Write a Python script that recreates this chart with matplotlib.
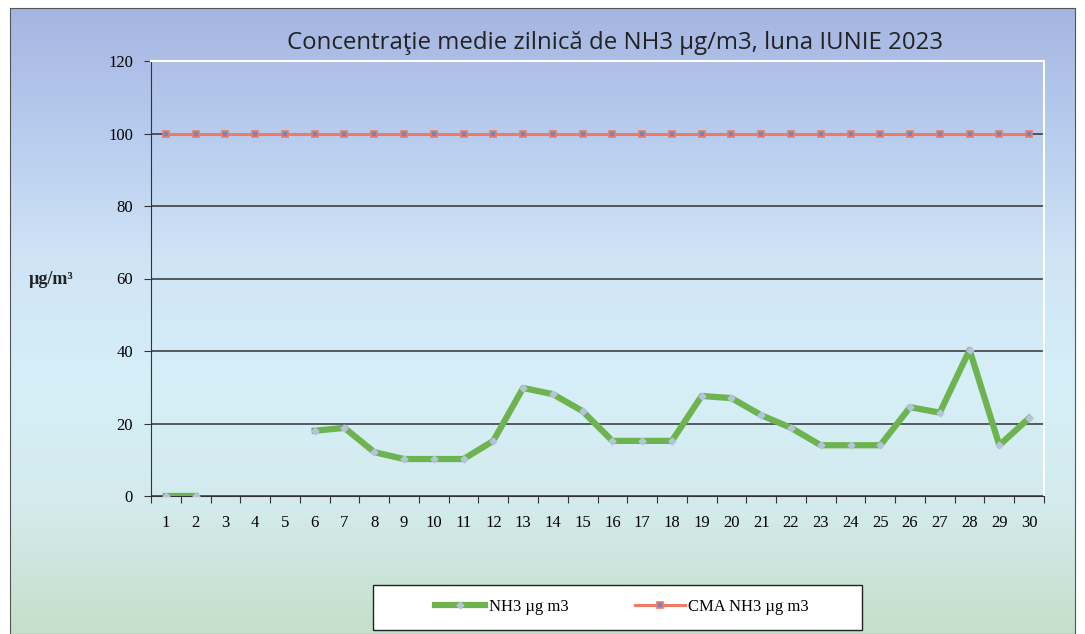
import numpy as np
import matplotlib.pyplot as plt
from matplotlib.colors import LinearSegmentedColormap
from matplotlib.patches import Rectangle

# daily data, June 2023 (None = no measurement)
days = list(range(1, 31))
nh3 = [0, 0, None, None, None, 18.0, 18.8, 12.1, 10.2, 10.2,
       10.2, 15.2, 29.8, 28.1, 23.4, 15.2, 15.2, 15.2, 27.6, 27.0,
       22.3, 18.8, 14.0, 14.0, 14.0, 24.5, 23.0, 40.3, 14.0, 21.5]
cma = [100] * 30
y_ticks = [0, 20, 40, 60, 80, 100, 120]

fig = plt.figure(figsize=(10.85, 6.34), dpi=100)

# gradient background (chart area), white strip outside
bg = fig.add_axes([10 / 1085, 0, 1065 / 1085, 626 / 634], zorder=0)
cmap = LinearSegmentedColormap.from_list(
    'bg', ['#a5b5e1', '#b8ccee', '#cfe4f5', '#d6eff8', '#d3ebec', '#c4dfca'])
grad = np.linspace(0, 1, 256).reshape(-1, 1)
bg.imshow(grad, aspect='auto', cmap=cmap, extent=[0, 1, 0, 1], origin='upper')
bg.set_xticks([])
bg.set_yticks([])
for s in bg.spines.values():
    s.set_color('#555555')
    s.set_linewidth(0.8)

ax = fig.add_axes([151 / 1085, 1 - 496 / 634, 893 / 1085, 435 / 634], zorder=1)
ax.set_facecolor('none')

x = np.array(days, dtype=float)
y = np.array([np.nan if v is None else v for v in nh3])

ax.plot(x, cma, color='#f07a64', lw=2.2, marker='s', ms=5,
        mfc='#7384c4', mec='#f07a64', mew=1.2, label='CMA NH3 µg m3', zorder=3)
ax.plot(x, y, color='#6db34f', lw=4.5, marker='D', ms=3.5,
        mfc='#b4c4dc', mec='#b4c4dc', label='NH3 µg m3', zorder=4)

ax.set_xlim(0.5, 30.5)
ax.set_ylim(0, 120)
ax.set_yticks(y_ticks)
ax.set_xticks(np.arange(0.5, 31, 1))
ax.set_xticklabels([])
ax.set_xticks(days, minor=True)
ax.set_xticklabels([str(d) for d in days], minor=True, family='Liberation Serif', fontsize=12)
ax.tick_params(axis='x', which='major', direction='out', length=5, color='#333333')
ax.tick_params(axis='x', which='minor', length=0, pad=14)
ax.tick_params(axis='y', direction='out', length=5, color='#333333', pad=8)
for lbl in ax.get_yticklabels():
    lbl.set_family('Liberation Serif')
    lbl.set_fontsize(12)

ax.grid(axis='y', color='#333333', lw=1.1)
ax.set_axisbelow(True)
ax.spines['left'].set_color('#333333')
ax.spines['bottom'].set_color('#333333')
ax.spines['top'].set_color('white')
ax.spines['right'].set_color('white')
ax.spines['top'].set_linewidth(1.5)
ax.spines['right'].set_linewidth(1.5)

fig.text(51 / 1085, 1 - 280 / 634, 'µg/m³', family='Liberation Serif', fontweight='bold',
         fontsize=13, ha='center', va='center', color='#222222')
fig.text(615 / 1085, 1 - 43 / 634, 'Concentraţie medie zilnică de NH3 µg/m3, luna IUNIE 2023',
         family='Open Sans', fontsize=17.3, ha='center', va='center', color='#222222')

# legend box (Excel style, fixed size)
fig.patches.append(Rectangle((373 / 1085, 1 - 630 / 634), 489 / 1085, 45 / 634,
                             transform=fig.transFigure, facecolor='white',
                             edgecolor='#222222', lw=1.0, zorder=2))
handles, labels = ax.get_legend_handles_labels()
leg = fig.legend(handles[::-1], labels[::-1], loc='center',
                 bbox_to_anchor=(622 / 1085, 1 - 607 / 634), ncol=2,
                 prop={'family': 'Liberation Serif', 'size': 12},
                 frameon=False, handlelength=3.0, columnspacing=4.0,
                 handletextpad=0.2)
leg.set_zorder(3)

fig.savefig('out.png', dpi=100)
